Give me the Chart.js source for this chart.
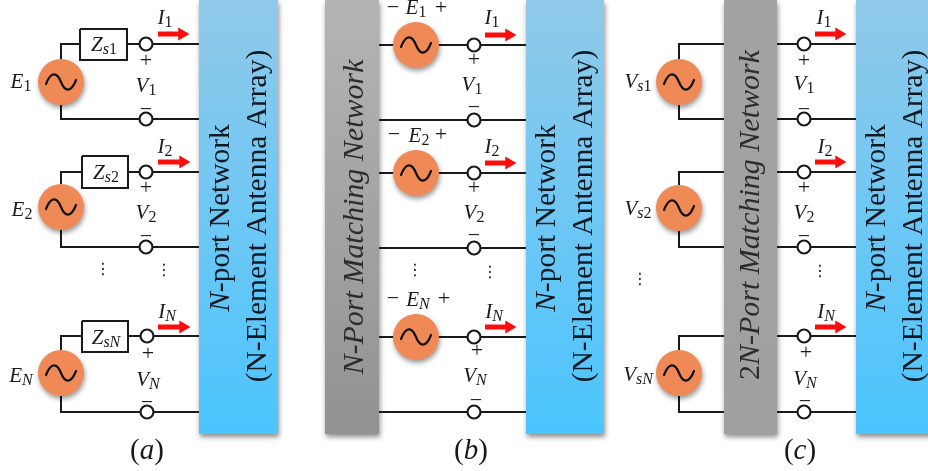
<!DOCTYPE html>
<html>
<head>
<meta charset="utf-8">
<title>N-port matching network</title>
<script src="https://cdn.jsdelivr.net/npm/chart.js@4"></script>
<style>
  html, body { margin: 0; padding: 0; background: #fff; }
  canvas { display: block; }
</style>
</head>
<body>
<canvas id="diagram" width="928" height="471"></canvas>
<script>
// Node positions, in picture units
const rowLabels = ["1", "2", "N"];

// (a) series impedance sources
const aSourceX = 61;
const aSourceY = [82, 207, 373];
const aTopY = [44, 172, 336];
const aBottomY = [119, 247, 412];
const aBoxLeft = [80, 82, 82];
const aBoxRight = [127, 128, 128];
const aBoxTop = [29, 156, 321];
const aBoxBottom = [60, 188, 352];
const aTerminalX = [146, 146, 147];
const aPortX = 199;

// (b) N-port matching network
const bSourceX = 416;
const bTopY = [45, 173, 337];
const bBottomY = [120, 248, 412];
const bTerminalX = [474, 474, 474];
const bNetworkX = 379;
const bPortX = 526;

// (c) 2N-port matching network
const cSourceX = 679;
const cSourceY = [82, 208, 373];
const cTopY = [44, 172, 336];
const cBottomY = [119, 247, 412];
const cTerminalX = [804, 804, 804];
const cNetworkLeft = 724;
const cNetworkRight = 777;
const cPortX = 856;

const sourceRadius = 23;

// left, right, top, bottom, colour top, colour bottom
const panels = [
  [199, 278, 0, 434, "#90c9e9", "#4bc5ff"],
  [325, 379, 0, 434, "#b4b4b4", "#929292"],
  [526, 604, 0, 434, "#90c9e9", "#4bc5ff"],
  [724, 777, 0, 434, "#a3a3a3", "#a0a0a0"],
  [856, 940, 0, 434, "#90c9e9", "#4bc5ff"],
];

// current arrows: tail x, tip x, y
const arrows = [
  [158, 188, 34], [158, 189, 162], [158, 189, 327],
  [485, 515, 35], [485, 515, 163], [485, 515, 327],
  [815, 845, 34], [815, 845, 162], [815, 845, 327],
];

// symbol, subscript, x, y
const symbols = [
  ["E", "1", 21, 82], ["E", "2", 22, 210], ["E", "N", 21, 376],
  ["Z", "s1", 104, 45], ["Z", "s2", 106, 173], ["Z", "sN", 106, 338],
  ["V", "1", 146, 86], ["V", "2", 146, 213], ["V", "N", 148, 380],
  ["I", "1", 165, 18], ["I", "2", 165, 147], ["I", "N", 167, 312],
  ["E", "1", 416, 8], ["E", "2", 419, 136], ["E", "N", 418, 300],
  ["V", "1", 472, 85], ["V", "2", 474, 213], ["V", "N", 475, 376],
  ["I", "1", 492, 18], ["I", "2", 492, 147], ["I", "N", 494, 312],
  ["V", "s1", 638, 82], ["V", "s2", 638, 209], ["V", "sN", 638, 375],
  ["V", "1", 804, 84], ["V", "2", 804, 213], ["V", "N", 805, 379],
  ["I", "1", 824, 18], ["I", "2", 825, 147], ["I", "N", 826, 312],
];

const plusMarks = [
  [146, 61], [146, 188], [148, 354],
  [441, 8], [441, 135], [444, 299],
  [474, 60], [474, 188], [477, 351],
  [804, 61], [804, 188], [806, 353],
];
const minusMarks = [
  [146, 110], [146, 237], [147, 403],
  [393, 8], [394, 135], [393, 299],
  [474, 108], [474, 236], [476, 401],
  [804, 110], [804, 237], [805, 402],
];
const dotMarks = [[103, 270], [164, 271], [415, 271], [490, 273], [640, 280], [820, 272]];

const captions = [["a", 147, 451], ["b", 471, 451], ["c", 800, 451]];

const SERIF = '"Liberation Serif", serif';

function wire(points) {
  return {
    data: points.map(p => ({ x: p[0], y: p[1] })),
    showLine: true,
    borderColor: "#1a1a1a",
    borderWidth: 2,
    borderJoinStyle: "miter",
    pointRadius: 0,
    fill: false,
    order: 5,
  };
}

function buildWires() {
  const lines = [];
  rowLabels.forEach((_, i) => {
    // panel a
    lines.push(wire([[aSourceX, aSourceY[i] - sourceRadius], [aSourceX, aTopY[i]], [aBoxLeft[i], aTopY[i]]]));
    lines.push(wire([[aBoxRight[i], aTopY[i]], [aPortX, aTopY[i]]]));
    lines.push(wire([[aSourceX, aSourceY[i] + sourceRadius], [aSourceX, aBottomY[i]], [aPortX, aBottomY[i]]]));
    lines.push(wire([
      [aBoxLeft[i], aBoxTop[i]], [aBoxRight[i], aBoxTop[i]], [aBoxRight[i], aBoxBottom[i]],
      [aBoxLeft[i], aBoxBottom[i]], [aBoxLeft[i], aBoxTop[i]],
    ]));
    // panel b
    lines.push(wire([[bNetworkX, bTopY[i]], [bPortX, bTopY[i]]]));
    lines.push(wire([[bNetworkX, bBottomY[i]], [bPortX, bBottomY[i]]]));
    // panel c
    lines.push(wire([[cNetworkLeft, cTopY[i]], [cSourceX, cTopY[i]], [cSourceX, cSourceY[i] - sourceRadius]]));
    lines.push(wire([[cNetworkLeft, cBottomY[i]], [cSourceX, cBottomY[i]], [cSourceX, cSourceY[i] + sourceRadius]]));
    lines.push(wire([[cNetworkRight, cTopY[i]], [cPortX, cTopY[i]]]));
    lines.push(wire([[cNetworkRight, cBottomY[i]], [cPortX, cBottomY[i]]]));
  });
  return lines;
}

function buildArrows() {
  return arrows.map(a => ({
    data: [{ x: a[0], y: a[2] }, { x: a[1] - 6, y: a[2] }],
    showLine: true,
    borderColor: "#fb0d0d",
    borderWidth: 5,
    pointStyle: "triangle",
    pointRotation: 90,
    pointRadius: [0, 7.5],
    pointBackgroundColor: "#fb0d0d",
    pointBorderWidth: 0,
    order: 3,
  }));
}

function sourcePoints() {
  const pts = [];
  rowLabels.forEach((_, i) => {
    pts.push({ x: aSourceX, y: aSourceY[i] });
    pts.push({ x: bSourceX, y: bTopY[i] });
    pts.push({ x: cSourceX, y: cSourceY[i] });
  });
  return pts;
}

function terminalPoints() {
  const pts = [];
  rowLabels.forEach((_, i) => {
    pts.push({ x: aTerminalX[i], y: aTopY[i] }, { x: aTerminalX[i], y: aBottomY[i] });
    pts.push({ x: bTerminalX[i], y: bTopY[i] }, { x: bTerminalX[i], y: bBottomY[i] });
    pts.push({ x: cTerminalX[i], y: cTopY[i] }, { x: cTerminalX[i], y: cBottomY[i] });
  });
  return pts;
}

// Draws a row of differently styled pieces of text centred on x, y
function drawRuns(ctx, runs, x, y, color) {
  let total = 0;
  runs.forEach(r => {
    ctx.font = r.font;
    total += ctx.measureText(r.text).width;
  });
  let cursor = x - total / 2;
  ctx.fillStyle = color;
  ctx.textAlign = "left";
  ctx.textBaseline = "middle";
  runs.forEach(r => {
    ctx.font = r.font;
    ctx.fillText(r.text, cursor, y + (r.dy || 0));
    cursor += ctx.measureText(r.text).width;
  });
}

function drawVertical(ctx, runs, x, y, color) {
  ctx.save();
  ctx.translate(x, y);
  ctx.rotate(-Math.PI / 2);
  drawRuns(ctx, runs, 0, 0, color);
  ctx.restore();
}

const diagramPlugin = {
  id: "diagram",
  beforeDatasetsDraw(chart) {
    const { ctx, scales } = chart;
    const sx = v => scales.x.getPixelForValue(v);
    const sy = v => scales.y.getPixelForValue(v);
    panels.forEach(p => {
      const grad = ctx.createLinearGradient(0, sy(p[2]), 0, sy(p[3]));
      grad.addColorStop(0, p[4]);
      grad.addColorStop(1, p[5]);
      ctx.save();
      ctx.shadowColor = "rgba(0,0,0,0.45)";
      ctx.shadowBlur = 5;
      ctx.shadowOffsetX = 1;
      ctx.shadowOffsetY = 3;
      ctx.fillStyle = grad;
      ctx.fillRect(sx(p[0]), sy(p[2]), sx(p[1]) - sx(p[0]), sy(p[3]) - sy(p[2]));
      ctx.restore();
    });
  },
  beforeDatasetDraw(chart, args) {
    if (chart.data.datasets[args.index].shadow) {
      const ctx = chart.ctx;
      ctx.save();
      ctx.shadowColor = "rgba(0,0,0,0.4)";
      ctx.shadowBlur = 5;
      ctx.shadowOffsetX = 1;
      ctx.shadowOffsetY = 3;
    }
  },
  afterDatasetDraw(chart, args) {
    if (chart.data.datasets[args.index].shadow) chart.ctx.restore();
  },
  afterDatasetsDraw(chart) {
    const { ctx, scales } = chart;
    const sx = v => scales.x.getPixelForValue(v);
    const sy = v => scales.y.getPixelForValue(v);

    // sine glyph inside each source
    ctx.save();
    ctx.strokeStyle = "#111";
    ctx.lineWidth = 2.2;
    ctx.lineCap = "round";
    sourcePoints().forEach(p => {
      const x = sx(p.x), y = sy(p.y);
      ctx.beginPath();
      ctx.moveTo(x - 15, y + 2);
      ctx.bezierCurveTo(x - 10, y - 11, x - 4, y - 10, x, y);
      ctx.bezierCurveTo(x + 4, y + 10, x + 10, y + 11, x + 15, y - 2);
      ctx.stroke();
    });
    ctx.restore();

    // symbols with subscripts
    symbols.forEach(s => {
      const runs = [{ text: s[0], font: `italic 21px ${SERIF}` }];
      const sub = s[1];
      if (sub[0] === "s") runs.push({ text: "s", font: `italic 16px ${SERIF}`, dy: 5 });
      const tail = sub[0] === "s" ? sub.slice(1) : sub;
      const tailFont = tail === "N" ? `italic 16px ${SERIF}` : `16px ${SERIF}`;
      runs.push({ text: tail, font: tailFont, dy: 5 });
      drawRuns(ctx, runs, sx(s[2]), sy(s[3]), "#1a1a1a");
    });

    plusMarks.forEach(m => drawRuns(ctx, [{ text: "+", font: `22px ${SERIF}` }], sx(m[0]), sy(m[1]), "#1a1a1a"));
    minusMarks.forEach(m => drawRuns(ctx, [{ text: "−", font: `22px ${SERIF}` }], sx(m[0]), sy(m[1]), "#1a1a1a"));
    dotMarks.forEach(m => drawRuns(ctx, [{ text: "⋮", font: '16px "DejaVu Sans"' }], sx(m[0]), sy(m[1]), "#1a1a1a"));

    captions.forEach(c => {
      drawRuns(ctx, [
        { text: "(", font: `29px ${SERIF}` },
        { text: c[0], font: `italic 29px ${SERIF}` },
        { text: ")", font: `29px ${SERIF}` },
      ], sx(c[1]), sy(c[2]), "#1a1a1a");
    });

    // text along the blocks
    [[221, 258], [547, 584], [877, 914]].forEach(pair => {
      drawVertical(ctx, [
        { text: "N", font: `italic 29.5px ${SERIF}` },
        { text: "-port Network", font: `29.5px ${SERIF}` },
      ], sx(pair[0]), sy(218), "#111a22");
      drawVertical(ctx, [{ text: "(N-Element Antenna Array)", font: `29.5px ${SERIF}` }], sx(pair[1]), sy(216), "#111a22");
    });
    drawVertical(ctx, [
      { text: "N", font: `italic 30px ${SERIF}` },
      { text: "-", font: `30px ${SERIF}` },
      { text: "Port Matching Network", font: `italic 30px ${SERIF}` },
    ], sx(355), sy(217), "#2c2c2c");
    drawVertical(ctx, [
      { text: "2", font: `30px ${SERIF}` },
      { text: "N", font: `italic 30px ${SERIF}` },
      { text: "-", font: `30px ${SERIF}` },
      { text: "Port Matching Network", font: `italic 30px ${SERIF}` },
    ], sx(751), sy(215), "#2c2c2c");
  },
};

new Chart(document.getElementById("diagram"), {
  type: "scatter",
  data: {
    datasets: [
      {
        data: terminalPoints(),
        pointRadius: 6.5,
        pointBackgroundColor: "#fff",
        pointBorderColor: "#1a1a1a",
        pointBorderWidth: 2.2,
        order: 1,
      },
      {
        data: sourcePoints(),
        shadow: true,
        pointRadius: sourceRadius,
        pointBorderWidth: 0,
        pointBackgroundColor: "#ef8a56",
        order: 2,
      },
      ...buildArrows(),
      ...buildWires(),
    ],
  },
  options: {
    responsive: false,
    animation: false,
    layout: { padding: 0, autoPadding: false },
    clip: false,
    events: [],
    plugins: { legend: { display: false }, tooltip: { enabled: false } },
    scales: {
      x: { type: "linear", display: false, min: 0, max: 928 },
      y: { type: "linear", display: false, reverse: true, min: 0, max: 471 },
    },
  },
  plugins: [diagramPlugin],
});
</script>
</body>
</html>
